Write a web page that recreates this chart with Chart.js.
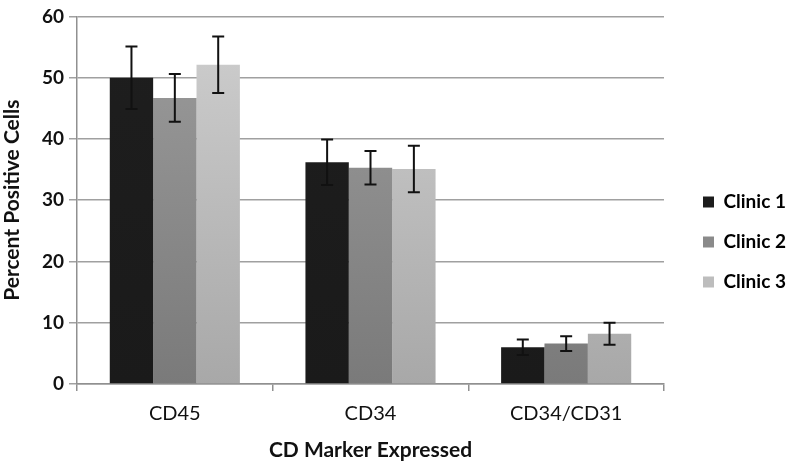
<!DOCTYPE html>
<html>
<head>
<meta charset="utf-8">
<script src="https://cdn.jsdelivr.net/npm/chart.js@4.4.1/dist/chart.umd.min.js"></script>
<style>
  html, body { margin: 0; padding: 0; background: #ffffff; }
  #wrap { width: 792px; height: 465px; }
</style>
</head>
<body>
<div id="wrap"><canvas id="c" width="792" height="465"></canvas></div>
<script>
const categories = ["CD45", "CD34", "CD34/CD31"];
const seriesNames = ["Clinic 1", "Clinic 2", "Clinic 3"];
const clinic1 = [50.0, 36.2, 6.0];
const clinic2 = [46.7, 35.3, 6.6];
const clinic3 = [52.1, 35.1, 8.2];
const clinic1Err = [5.1, 3.7, 1.25];
const clinic2Err = [3.9, 2.75, 1.2];
const clinic3Err = [4.6, 3.8, 1.8];
const yTicks = [0, 10, 20, 30, 40, 50, 60];

const FONT = "Lato, 'Open Sans', sans-serif";

function vGrad(top, bottom) {
  return function(ctx) {
    const area = ctx.chart.chartArea;
    if (!area) return top;
    const g = ctx.chart.ctx.createLinearGradient(0, area.top, 0, area.bottom);
    g.addColorStop(0, top);
    g.addColorStop(1, bottom);
    return g;
  };
}

const errorBars = {
  id: 'errorBars',
  afterDatasetsDraw(chart) {
    const ctx = chart.ctx;
    const y = chart.scales.y;
    ctx.save();
    ctx.strokeStyle = '#111111';
    ctx.lineWidth = 2;
    chart.data.datasets.forEach((ds, i) => {
      const meta = chart.getDatasetMeta(i);
      meta.data.forEach((bar, j) => {
        const v = ds.data[j], e = ds.errors[j];
        const yt = y.getPixelForValue(v + e);
        const yb = y.getPixelForValue(v - e);
        const x = bar.x;
        const cap = 6;
        ctx.beginPath();
        ctx.moveTo(x, yt); ctx.lineTo(x, yb);
        ctx.moveTo(x - cap, yt); ctx.lineTo(x + cap, yt);
        ctx.moveTo(x - cap, yb); ctx.lineTo(x + cap, yb);
        ctx.stroke();
      });
    });
    ctx.restore();
  }
};

const LEGEND_WIDTH = 128;
const legendShift = {
  id: 'legendShift',
  beforeLayout(chart) {
    const lg = chart.legend;
    if (!lg || lg._patchedFit) return;
    const orig = lg.fit;
    lg.fit = function() { orig.call(this); if (!this.isHorizontal()) this.width = LEGEND_WIDTH; };
    lg._patchedFit = true;
  },
  afterLayout(chart) {
    const lg = chart.legend;
    if (!lg) return;
    const w = lg.width;
    lg.left = chart.chartArea.right + 18;
    lg.right = lg.left + w;
    lg.top += 4;
    lg.bottom += 4;
  }
};

new Chart(document.getElementById('c'), {
  type: 'bar',
  data: {
    labels: categories,
    datasets: [
      { label: seriesNames[0], data: clinic1, errors: clinic1Err, backgroundColor: vGrad('#1e1e1e', '#1a1a1a') },
      { label: seriesNames[1], data: clinic2, errors: clinic2Err, backgroundColor: vGrad('#9c9c9c', '#7a7a7a') },
      { label: seriesNames[2], data: clinic3, errors: clinic3Err, backgroundColor: vGrad('#cfcfcf', '#a8a8a8') }
    ]
  },
  options: {
    responsive: false,
    animation: false,
    devicePixelRatio: 1,
    layout: { padding: { top: 11, right: 0, bottom: 0, left: 0 } },
    datasets: { bar: { barPercentage: 1.0, categoryPercentage: 0.665, borderWidth: 0 } },
    plugins: {
      tooltip: { enabled: false },
      legend: {
        position: 'right',
        align: 'center',
        labels: {
          boxWidth: 11,
          boxHeight: 11,
          padding: 21,
          color: '#111111',
          font: { family: FONT, size: 19, weight: 'bold' },
          generateLabels(chart) {
            const cols = ['#1c1c1c', '#8a8a8a', '#bdbdbd'];
            return chart.data.datasets.map((ds, i) => ({
              text: ds.label, fillStyle: cols[i], strokeStyle: cols[i], lineWidth: 0,
              datasetIndex: i, hidden: false
            }));
          }
        }
      }
    },
    scales: {
      x: {
        afterFit(scale) { scale.height = 81; },
        grid: { display: true, drawOnChartArea: false, drawTicks: true, tickLength: 7, color: '#909090', lineWidth: 1.5, offset: true },
        border: { display: true, color: '#909090', width: 1.5 },
        ticks: { color: '#111111', padding: 11, font: { family: FONT, size: 20 } },
        title: { display: true, text: 'CD Marker Expressed', color: '#111111', padding: { top: 4, bottom: 2 }, font: { family: FONT, size: 21, weight: 'bold' } }
      },
      y: {
        min: 0, max: 60,
        afterFit(scale) { scale.width = 77; },
        afterBuildTicks(scale) { scale.ticks = yTicks.map(v => ({ value: v })); },
        grid: { color: '#a0a0a0', lineWidth: 1.5, drawTicks: true, tickLength: 8 },
        border: { display: true, color: '#909090', width: 1.5 },
        ticks: { color: '#111111', padding: 5, font: { family: FONT, size: 19, weight: 'bold' } },
        title: { display: true, text: 'Percent Positive Cells', color: '#111111', padding: { top: 0, bottom: 2 }, font: { family: FONT, size: 21, weight: 'bold' } }
      }
    }
  },
  plugins: [errorBars, legendShift]
});
</script>
</body>
</html>
